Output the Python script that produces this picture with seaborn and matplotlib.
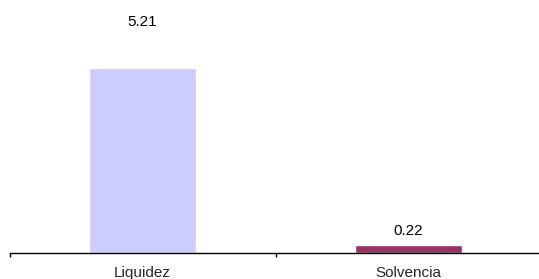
import matplotlib
matplotlib.use("Agg")
import matplotlib.pyplot as plt
import seaborn as sns
import pandas as pd

categories = ["Liquidez", "Solvencia"]
values = [5.21, 0.22]
value_labels = ["5.21", "0.22"]
colors = ["#CCCCFF", "#993366"]

sns.set_style("white")
plt.rcParams['font.family'] = ['Liberation Sans', 'DejaVu Sans']

df = pd.DataFrame({"cat": categories, "val": values})

fig = plt.figure(figsize=(5.39, 2.79), dpi=100)
ax = fig.add_axes([9.5 / 539, 26 / 279, 532 / 539, 253 / 279])
sns.barplot(data=df, x="cat", y="val", hue="cat", palette=colors, width=0.405,
            legend=False, ax=ax, saturation=1)

ax.set_xlim(-0.5, 1.5)
ax.set_ylim(0, 253 / 35.5)
for s in ["top", "right", "left"]:
    ax.spines[s].set_visible(False)
ax.spines["bottom"].set_color("black")
ax.spines["bottom"].set_linewidth(1.0)
ax.set_yticks([])
ax.set_xticks([-0.5, 0.5, 1.5])
ax.set_xticks([0, 1], minor=True)
ax.set_xticklabels(["", "", ""])
ax.set_xticklabels(categories, minor=True)
ax.tick_params(axis="x", which="major", direction="out", length=3, width=1, color="black", bottom=True)
ax.tick_params(axis="x", which="minor", length=0, pad=9.5, labelsize=11)
ax.set_xlabel("")
ax.set_ylabel("")

offsets = [30, 7]
for i, (v, lab) in enumerate(zip(values, value_labels)):
    ax.annotate(lab, (i, v), xytext=(0, offsets[i]), textcoords="offset points",
                ha="center", va="baseline", fontsize=11, color="black")

fig.savefig("out.png", dpi=100)
